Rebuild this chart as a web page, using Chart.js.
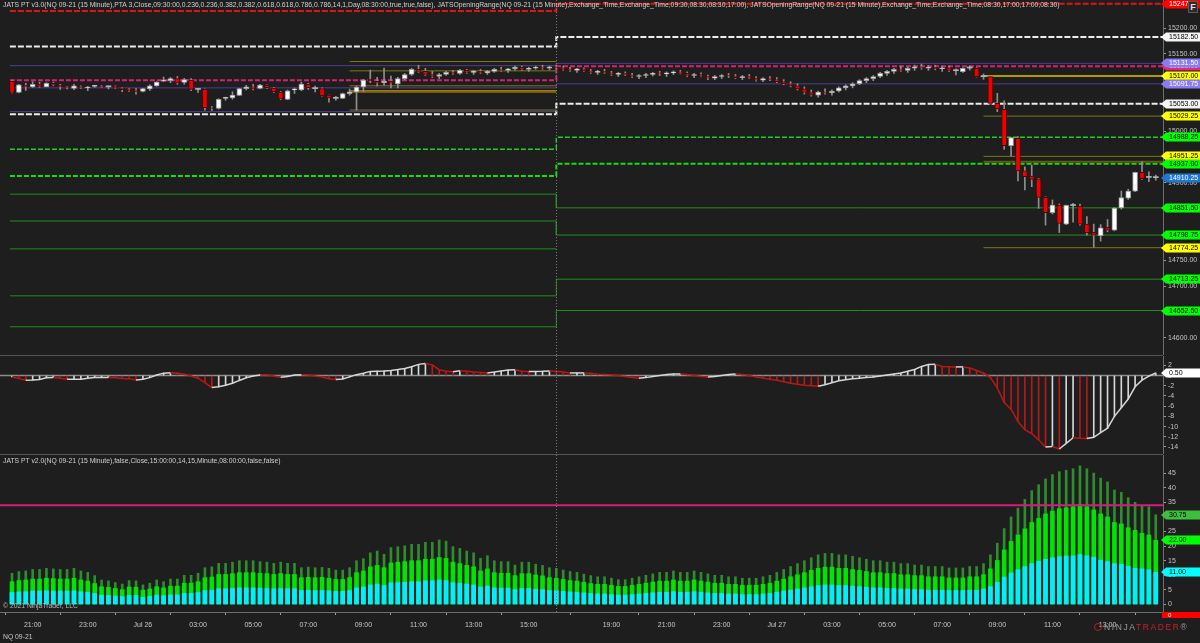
<!DOCTYPE html>
<html>
<head>
<meta charset="utf-8">
<title>NQ 09-21 (15 Minute)</title>
<script src="https://cdn.jsdelivr.net/npm/chart.js@4.4.1/dist/chart.umd.min.js"></script>
<style>
  html, body { margin: 0; padding: 0; background: #1e1e1e; overflow: hidden; }
  #wrap { position: relative; width: 1200px; height: 643px; background: #1e1e1e; font-family: "Liberation Sans", Arial, sans-serif; }
  canvas { position: absolute; left: 0; }
  #price { top: 0; }
  #osc { top: 356px; }
  #vol { top: 455px; }
  .sep { position: absolute; left: 0; width: 1163px; height: 1px; background: #555; }
  .txt { position: absolute; color: #d0d0d0; font-size: 6.8px; white-space: nowrap; }
  #fbtn { position: absolute; left: 1188px; top: 1px; width: 10px; height: 12px; background: #2b2b2b; border: 1px solid #5a5a5a; box-sizing: border-box; color: #e0e0e0; font-size: 9px; font-weight: bold; text-align: center; line-height: 11px; }
  #zero { position: absolute; left: 1162px; top: 612px; width: 38px; height: 6px; background: #ff0000; color: #fff; font-size: 6px; line-height: 6px; padding-left: 6px; box-sizing: border-box; }
  #logo { position: absolute; left: 1094px; top: 622px; font-size: 8.5px; letter-spacing: 1.6px; color: #9a9a9a; white-space: nowrap; }
  #logo b { font-weight: normal; color: #c8202a; }
  #logo i { display: inline-block; width: 8px; height: 8px; border-radius: 50%; border: 1.5px solid #b02028; box-sizing: border-box; margin-right: 2px; vertical-align: -1px; }
</style>
</head>
<body>
<div id="wrap">
  <canvas id="price" width="1200" height="355"></canvas>
  <canvas id="osc" width="1200" height="98"></canvas>
  <canvas id="vol" width="1200" height="188"></canvas>
  <div class="sep" style="top:355px"></div>
  <div class="sep" style="top:454px"></div>
  <div class="txt" style="left:3px;top:1px">JATS PT v3.0(NQ 09-21 (15 Minute),PTA 3,Close,09:30:00,0.236,0.236,0.382,0.382,0.618,0.618,0.786,0.786,14,1,Day,08:30:00,true,true,false), JATSOpeningRange(NQ 09-21 (15 Minute),Exchange_Time,Exchange_Time,09:30,08:30,08:30,17:00), JATSOpeningRange(NQ 09-21 (15 Minute),Exchange_Time,Exchange_Time,08:30,17:00,17:00,08:30)</div>
  <div class="txt" style="left:3px;top:457px">JATS PT v2.0(NQ 09-21 (15 Minute),false,Close,15:00:00,14,15,Minute,08:00:00,false,false)</div>
  <div class="txt" style="left:3px;top:602px;color:#b8b8b8">© 2021 NinjaTrader, LLC</div>
  <div class="txt" style="left:3px;top:633px;color:#c8c8c8">NQ 09-21</div>
  <div id="fbtn">F</div>
  <div id="zero">0</div>
  <div id="logo"><i></i>NINJA<b>TRADER</b>®</div>
</div>
<script>
const FONT = '"Liberation Sans", Arial, sans-serif';

// ---------- Data ----------
// 15 minute bars, Jul 25 20:15 -> Jul 27 14:45 (session break after bar 79)
const opens = [
  15097, 15075, 15089, 15086, 15091.5, 15086, 15093, 15089, 15085.5, 15083,
  15086, 15083.75, 15087, 15088, 15086, 15087, 15084, 15082, 15080, 15077,
  15082, 15088, 15096.75, 15098, 15102, 15094.75, 15098.5, 15081, 15081, 15044.5,
  15044, 15063.5, 15064.5, 15069.5, 15082.5, 15086, 15083, 15089, 15083.75, 15076,
  15061.75, 15080, 15080, 15091, 15082.5, 15082.5, 15069.5, 15064, 15063.75, 15072.75,
  15076, 15086, 15100.5, 15096.75, 15094, 15097, 15091.5, 15102, 15110, 15120,
  15116, 15110, 15106, 15110, 15114, 15112, 15118, 15114, 15116, 15113,
  15116, 15120, 15118, 15121, 15124, 15120, 15122, 15124, 15122, 15125,
  15123, 15120, 15118, 15121, 15117, 15114, 15116, 15113, 15110, 15112,
  15109, 15106, 15108, 15110, 15112, 15111, 15113, 15115, 15112, 15108,
  15110, 15106, 15103, 15106, 15108, 15107, 15104, 15106, 15103, 15099,
  15102, 15100, 15096, 15092, 15088, 15082, 15075, 15070, 15076, 15074,
  15078, 15084, 15088, 15092, 15098, 15102, 15106, 15112, 15116, 15120,
  15118, 15122, 15125, 15122, 15124, 15121, 15123, 15117.25, 15115.5, 15122.5,
  15121.75, 15105.75, 15105.75, 15054, 15042.5, 14972, 14986, 14923, 14913, 14907.5,
  14871.75, 14842, 14857, 14820, 14856, 14855, 14820.25, 14804, 14797.5, 14813.75,
  14808, 14851.25, 14870, 14884, 14920.25, 14910.5, 14910
];
const highs = [
  15099, 15091, 15093, 15096, 15095, 15094, 15095, 15091, 15087, 15091,
  15088, 15087, 15089, 15089, 15088, 15088, 15085, 15083, 15083, 15083,
  15090, 15096, 15105, 15104, 15106, 15102.5, 15102, 15083, 15082, 15048,
  15063, 15066, 15076.5, 15083, 15089, 15091, 15091, 15090, 15085, 15077,
  15080, 15083.75, 15095, 15093, 15087.5, 15084, 15070, 15067.5, 15074, 15081.75,
  15087.5, 15100.5, 15118.5, 15104.5, 15122.5, 15107, 15104.5, 15112, 15122, 15128,
  15122, 15116, 15112, 15116, 15118, 15120, 15120, 15118, 15120, 15118,
  15122, 15124, 15122, 15126, 15126, 15124, 15126, 15128, 15126, 15128,
  15126, 15124, 15122, 15123, 15120, 15118, 15120, 15116, 15114, 15115,
  15112, 15110, 15112, 15114, 15116, 15115, 15117, 15118, 15115, 15112,
  15113, 15109, 15108, 15110, 15112, 15110, 15108, 15110, 15106, 15104,
  15106, 15104, 15100, 15096, 15092, 15086, 15080, 15078, 15082, 15080,
  15086, 15090, 15094, 15100, 15104, 15108, 15114, 15118, 15122, 15126,
  15124, 15128, 15130, 15127, 15128, 15126, 15126, 15121, 15123, 15126.5,
  15123, 15111, 15106, 15073.5, 15059, 14988, 14989.5, 14931, 14934.5, 14908.75,
  14873, 14866.75, 14859, 14857, 14860, 14859, 14834.5, 14820, 14819, 14829,
  14852, 14884, 14887.5, 14921, 14941, 14921.5, 14915
];
const lows = [
  15074, 15074, 15079, 15085, 15085, 15086, 15088, 15081, 15082, 15080.5,
  15083, 15078.5, 15085, 15085, 15082, 15083, 15076.5, 15077, 15072, 15076,
  15079, 15087, 15096, 15094, 15091, 15091, 15078.5, 15075, 15041, 15040,
  15043, 15060, 15062, 15069, 15080, 15080, 15082, 15083, 15075, 15061,
  15061, 15073, 15078.5, 15081, 15076, 15068, 15056.5, 15060, 15063, 15070,
  15041, 15076.5, 15094, 15087.5, 15089, 15083.75, 15083.75, 15100, 15108, 15114,
  15108, 15104, 15102, 15108, 15110, 15110, 15112, 15110, 15112, 15110,
  15114, 15116, 15114, 15118, 15118, 15116, 15120, 15120, 15119, 15121,
  15118, 15116, 15114, 15116, 15112, 15110, 15112, 15108, 15106, 15108,
  15104, 15102, 15104, 15107, 15108, 15106, 15110, 15111, 15106, 15104,
  15105, 15100, 15100, 15102, 15104, 15102, 15100, 15102, 15097, 15096,
  15098, 15094, 15090, 15086, 15080, 15072, 15068, 15066, 15072, 15070,
  15076, 15080, 15084, 15090, 15094, 15098, 15104, 15108, 15112, 15116,
  15114, 15118, 15120, 15118, 15119, 15116, 15116, 15109, 15114, 15118.5,
  15105, 15100.5, 15053, 15038, 14965, 14952, 14903.5, 14886, 14892.5, 14850.5,
  14818, 14839.5, 14803.5, 14819, 14823.5, 14818, 14798.75, 14775, 14787, 14805,
  14807, 14849, 14868, 14883, 14906.75, 14902, 14905
];
const closes = [
  15075, 15090, 15086, 15091, 15087, 15093, 15089, 15086, 15085, 15088,
  15084.5, 15085.75, 15087.5, 15086, 15086, 15084, 15080.5, 15079, 15077, 15082.5,
  15088, 15095, 15099, 15102, 15093.5, 15100, 15081, 15081, 15045.5, 15044,
  15062, 15064, 15070, 15082.5, 15086, 15082, 15089.5, 15084.5, 15076.5, 15062.5,
  15078.5, 15080.5, 15091.5, 15084.5, 15082.5, 15069, 15064.5, 15063.75, 15072.75, 15076.5,
  15085.75, 15099, 15098, 15093, 15096.75, 15093, 15102, 15110, 15120, 15116,
  15110, 15106, 15110, 15114, 15112, 15118, 15114, 15116, 15113, 15116,
  15120, 15118, 15121, 15124, 15120, 15122, 15124, 15122, 15125, 15123,
  15120, 15118, 15121, 15117, 15114, 15116, 15113, 15110, 15112, 15109,
  15106, 15108, 15110, 15112, 15111, 15113, 15115, 15112, 15108, 15110,
  15106, 15103, 15106, 15108, 15107, 15104, 15106, 15103, 15099, 15102,
  15100, 15096, 15092, 15088, 15082, 15075, 15070, 15076, 15074, 15078,
  15084, 15088, 15092, 15098, 15102, 15106, 15112, 15116, 15120, 15118,
  15122, 15125, 15122, 15124, 15121, 15123, 15118, 15117.25, 15121.75, 15122.5,
  15105.75, 15105.75, 15054, 15043, 14972, 14987.5, 14923, 14912, 14906.75, 14871.75,
  14842, 14857, 14821.5, 14856.25, 14856.25, 14820, 14803.5, 14798.75, 14813, 14808,
  14851.25, 14871.25, 14884, 14920.25, 14908, 14910.5, 14910.25
];

// JATS PT v3.0 oscillator
const oscVals = [
  -0.26, -0.6, -0.9, -0.87, -0.78, -0.44, -0.4, -0.52, -0.7, -0.7,
  -0.7, -0.52, -0.4, -0.4, -0.4, -0.44, -0.56, -0.6, -0.87, -0.7,
  -0.4, 0.1, 0.48, 0.56, 0.52, 0.26, -0.1, -0.52, -1.4, -2.35,
  -2.2, -1.9, -1.5, -0.95, -0.44, -0.1, 0.13, 0.1, -0.1, -0.35,
  -0.18, 0.1, 0.18, 0.1, -0.1, -0.26, -0.6, -0.78, -0.65, -0.26,
  0.18, 0.44, 0.82, 0.87, 0.92, 1.0, 1.18, 1.4, 1.75, 2.2,
  2.35, 2.1, 1.15, 0.87, 0.74, 0.96, 0.87, 0.7, 0.6, 0.52,
  0.7, 0.92, 1.1, 1.15, 0.87, 0.78, 0.78, 0.83, 0.92, 0.87,
  0.7, 0.52, 0.52, 0.52, 0.44, 0.26, 0.2, 0.1, 0.0, -0.2,
  -0.4, -0.5, -0.4, -0.2, 0.0, 0.2, 0.3, 0.3, 0.2, 0.0,
  -0.2, -0.3, -0.2, 0.0, 0.2, 0.3, 0.2, 0.0, -0.3, -0.5,
  -0.7, -0.9, -1.2, -1.5, -1.7, -1.9, -2.0, -2.1, -1.8, -1.4,
  -1.0, -0.8, -0.6, -0.5, -0.4, -0.3, -0.1, 0.1, 0.3, 0.5,
  0.85, 1.2, 1.8, 2.15, 2.2, 1.8, 1.75, 1.7, 1.7, 1.5,
  1.0, 0.5, -0.4, -2.4, -5.3, -6.6, -9, -10.6, -11.4, -12.6,
  -14, -13.9, -14.4, -13.3, -12.2, -12.3, -12.35, -12.1, -11.2, -10.3,
  -8, -6.3, -4.6, -2.2, -0.9, -0.1, 0.5
];

// JATS PT v2.0 lower panel: outer (dark green), mid (green), inner (cyan)
const outerVals = [
  10.7, 11.3, 11.5, 12, 12, 12.4, 12.2, 12, 12, 12.4,
  11.5, 11, 9.9, 8.4, 8.1, 7.5, 7, 8.2, 8.1, 6.7,
  7.3, 8.4, 7.8, 8.7, 8.7, 10, 10, 10.7, 12.6, 12.9,
  14.1, 14.1, 14.5, 15, 15, 15, 14.7, 14.5, 14.1, 14.5,
  14.1, 14.1, 12.6, 12.8, 12.6, 12.7, 12.4, 11.8, 11.8, 12.6,
  15, 15.7, 17.7, 18.3, 17.2, 19.5, 19.8, 20.1, 20.6, 20.6,
  21.3, 21.3, 22.1, 21.7, 19.8, 19.2, 18.3, 17.7, 15.8, 16.7,
  15, 14.7, 14.7, 13.5, 14.5, 14.5, 13.8, 13.4, 12.6, 12.4,
  11.8, 11.3, 11, 10.4, 9.9, 9.5, 9.5, 9, 8.5, 8.5,
  9, 9.5, 10, 10.5, 11, 11, 11.5, 11, 11, 11.5,
  11, 10.5, 10, 10, 9.5, 9.5, 9, 9, 9, 9.5,
  10, 11, 12, 13, 14, 15, 16, 17, 17.5, 17.5,
  17, 17, 16.5, 16, 15.5, 15, 15, 14.5, 14.5, 14,
  14, 13.5, 13.5, 13, 13, 13, 12.5, 12.5, 12.5, 13,
  13, 14, 17, 21, 26, 30, 33, 36, 39, 41,
  43, 44.5, 45.5, 46, 46.5, 47.5, 46.5, 45, 43.3, 42,
  39.2, 38.4, 36.6, 35, 34, 33.5, 30.75
];
const midVals = [
  7.8, 8.2, 8.4, 8.7, 8.7, 9.0, 8.9, 8.7, 8.7, 9.0,
  8.4, 8.0, 7.2, 6.1, 5.9, 5.5, 5.1, 6.0, 5.9, 4.9,
  5.3, 6.1, 5.7, 6.3, 6.3, 7.3, 7.3, 7.8, 9.2, 9.4,
  10.3, 10.3, 10.6, 10.9, 10.9, 10.9, 10.7, 10.6, 10.3, 10.6,
  10.3, 10.3, 9.2, 9.3, 9.2, 9.3, 9.0, 8.6, 8.6, 9.2,
  10.9, 11.5, 12.9, 13.4, 12.6, 14.2, 14.5, 14.7, 15.0, 15.0,
  15.5, 15.5, 16.1, 15.8, 14.5, 14.0, 13.4, 12.9, 11.5, 12.2,
  10.9, 10.7, 10.7, 9.9, 10.6, 10.6, 10.1, 9.8, 9.2, 9.0,
  8.6, 8.2, 8.0, 7.6, 7.2, 6.9, 6.9, 6.6, 6.2, 6.2,
  6.6, 6.9, 7.3, 7.7, 8.0, 8.0, 8.4, 8.0, 8.0, 8.4,
  8.0, 7.7, 7.3, 7.3, 6.9, 6.9, 6.6, 6.6, 6.6, 6.9,
  7.3, 8.0, 8.7, 9.5, 10.2, 10.9, 11.7, 12.4, 12.8, 12.8,
  12.4, 12.4, 12.0, 11.7, 11.3, 10.9, 10.9, 10.6, 10.6, 10.2,
  10.2, 9.9, 9.9, 9.5, 9.5, 9.5, 9.1, 9.1, 9.1, 9.5,
  9.5, 10.2, 12.2, 15.1, 18.7, 21.6, 23.8, 25.9, 28.1, 29.5,
  31.0, 32.0, 32.8, 33.1, 33.5, 34.2, 33.5, 32.4, 31.0, 30.0,
  28.1, 27.6, 26.3, 25.4, 24.4, 23.8, 22.0
];
const innerVals = [
  4.1, 4.3, 4.4, 4.6, 4.6, 4.7, 4.6, 4.6, 4.6, 4.7,
  4.4, 4.2, 3.8, 3.2, 3.1, 2.9, 2.7, 3.1, 3.1, 2.5,
  2.8, 3.2, 3.0, 3.3, 3.3, 3.8, 3.8, 4.1, 4.8, 4.9,
  5.4, 5.4, 5.5, 5.7, 5.7, 5.7, 5.6, 5.5, 5.4, 5.5,
  5.4, 5.4, 4.8, 4.9, 4.8, 4.8, 4.7, 4.5, 4.5, 4.8,
  5.7, 6.0, 6.7, 7.0, 6.5, 7.4, 7.5, 7.6, 7.8, 7.8,
  8.1, 8.1, 8.4, 8.2, 7.5, 7.3, 7.0, 6.7, 6.0, 6.3,
  5.7, 5.6, 5.6, 5.1, 5.5, 5.5, 5.2, 5.1, 4.8, 4.7,
  4.5, 4.3, 4.2, 4.0, 3.8, 3.6, 3.6, 3.4, 3.2, 3.2,
  3.4, 3.6, 3.8, 4.0, 4.2, 4.2, 4.4, 4.2, 4.2, 4.4,
  4.2, 4.0, 3.8, 3.8, 3.6, 3.6, 3.4, 3.4, 3.4, 3.6,
  3.8, 4.2, 4.6, 4.9, 5.3, 5.7, 6.1, 6.5, 6.7, 6.7,
  6.5, 6.5, 6.3, 6.1, 5.9, 5.7, 5.7, 5.5, 5.5, 5.3,
  5.3, 5.1, 5.1, 4.9, 4.9, 4.9, 4.8, 4.8, 4.8, 4.9,
  4.9, 5.3, 6.1, 7.6, 9.4, 10.8, 11.9, 13.0, 14.0, 14.8,
  15.5, 16.0, 16.4, 16.6, 16.7, 17.1, 16.7, 16.2, 15.2, 14.7,
  14.0, 13.8, 13.1, 12.4, 12.2, 11.9, 11.0
];
const volLimit = 34;

// session-level lines: [Jul 25-26 session, Jul 26-27 session]
const sessBreak = 79;
const lvlRed = [15233, 15247];
const lvlWhiteHi = [15164, 15182.5];
const lvlWhiteLo = [15033, 15053];
const lvlPink = [15099, 15126];
const lvlPurpleHi = [15127, 15131.5];
const lvlPurpleLo = [15084, 15091.75];
const lvlPurpleX = [15038, null];
const lvlGreenDashHi = [14965, 14988.25];
const lvlGreenDashLo = [14913, 14937];
const lvlGreen1 = [14878, 14851.5];
const lvlGreen2 = [14826, 14798.75];
const lvlGreen3 = [14772, null];
const lvlGreen4 = [14681, 14713.25];
const lvlGreen5 = [14621, 14652.5];

// PTA retracement levels drawn from the 08:30 bar of each day
const ptaStart = [49, 141];
const ptaLeft = [15135, 15117, 15088, 15078.5, 15076, 15041];
const ptaRight = [15107, 15029.25, 14951.25, 14941, 14774.25];

// axis ticks
const priceTicks = [14600, 14650, 14700, 14750, 14800, 14850, 14900, 14950, 15000, 15050, 15100, 15150, 15200, 15250];
const oscTicks = [2, 0, -2, -4, -6, -8, -10, -12, -14];
const volTicks = [0, 5, 10, 15, 20, 25, 30, 35, 40, 45];
const xTickIndex = [3, 11, 19, 27, 35, 43, 51, 59, 67, 75, 87, 95, 103, 111, 119, 127, 135, 143, 151, 159];
const xTickLabels = ['21:00', '23:00', 'Jul 26', '03:00', '05:00', '07:00', '09:00', '11:00', '13:00', '15:00',
  '19:00', '21:00', '23:00', 'Jul 27', '03:00', '05:00', '07:00', '09:00', '11:00', '13:00'];

// ---------- Layout constants ----------
const X_MIN = -1.74, X_MAX = 167.05;
const LINE_START = -0.3;
const AXIS_W = 37;
const RED = '#b81818', WHITE = '#d6d6d6';

const idx = opens.map((_, i) => i);

// ---------- Plugins ----------
const flagPlugin = {
  id: 'flags',
  afterDraw(chart, args, opts) {
    const ctx = chart.ctx;
    const ys = chart.scales.y;
    const x0 = chart.chartArea.right;
    ctx.save();
    ctx.font = '7px ' + FONT;
    ctx.textBaseline = 'middle';
    (opts.items || []).forEach(f => {
      const py = Math.round(ys.getPixelForValue(f.v));
      const h = 9;
      ctx.beginPath();
      ctx.moveTo(x0 - 2, py);
      ctx.lineTo(x0 + 3, py - h / 2);
      ctx.lineTo(1200, py - h / 2);
      ctx.lineTo(1200, py + h / 2);
      ctx.lineTo(x0 + 3, py + h / 2);
      ctx.closePath();
      ctx.fillStyle = f.bg;
      ctx.fill();
      ctx.fillStyle = f.fg;
      ctx.fillText(f.text, x0 + 6, py + 0.5);
    });
    ctx.restore();
  }
};

const breakPlugin = {
  id: 'sessBreak',
  afterDatasetsDraw(chart) {
    const ctx = chart.ctx;
    const px = Math.round(chart.scales.x.getPixelForValue(sessBreak)) + 0.5;
    ctx.save();
    ctx.strokeStyle = '#7a7a7a';
    ctx.lineWidth = 1;
    ctx.setLineDash([1, 2]);
    ctx.beginPath();
    ctx.moveTo(px, chart.chartArea.top);
    ctx.lineTo(px, chart.chartArea.bottom);
    ctx.stroke();
    ctx.restore();
  }
};

// ---------- Helpers ----------
function yAxis(min, max, ticks, fmt) {
  return {
    type: 'linear', position: 'right', min, max,
    afterBuildTicks: s => { s.ticks = ticks.map(v => ({ value: v })); },
    afterFit: s => { s.width = AXIS_W; s.paddingTop = 0; s.paddingBottom = 0; },
    ticks: { color: '#c4c4c4', font: { size: 7, family: FONT }, padding: 2, autoSkip: false, callback: fmt },
    grid: { drawOnChartArea: false, drawTicks: true, tickLength: 3, color: '#9a9a9a' },
    border: { display: true, color: '#6e6e6e' }
  };
}

const xHidden = { type: 'linear', min: X_MIN, max: X_MAX, display: false, offset: false };

function baseOptions(y, x, flags) {
  return {
    responsive: false, animation: false, events: [],
    layout: { padding: 0 },
    plugins: { legend: { display: false }, tooltip: { enabled: false }, flags: { items: flags } },
    scales: { x, y }
  };
}

function levelLine(vals, color, width, dash) {
  const pts = [];
  if (vals[0] != null) pts.push({ x: LINE_START, y: vals[0] }, { x: sessBreak, y: vals[0] });
  if (vals[1] != null) pts.push({ x: sessBreak, y: vals[1] }, { x: X_MAX, y: vals[1] });
  return { type: 'line', data: pts, borderColor: color, borderWidth: width, borderDash: dash || [],
    pointRadius: 0, fill: false, tension: 0, order: 5 };
}

function segLine(from, to, v, color, width) {
  return { type: 'line', data: [{ x: from, y: v }, { x: to, y: v }], borderColor: color, borderWidth: width,
    pointRadius: 0, fill: false, order: 4 };
}

// ---------- Price panel ----------
const ptaLeftColors = ['#7c7a12', '#7c7a12', '#7c7a12', '#c88a00', '#b8a000', '#7c7a12'];
const ptaRightColors = ['#b09a00', '#7c7a12', '#7c7a12', '#6a5612', '#7c7a12'];
const ptaRightWidth = [2, 1, 1, 2, 1];

const priceSets = [
  levelLine(lvlRed, '#e01414', 2, [6, 2]),
  levelLine(lvlWhiteHi, '#ececec', 2, [6, 2]),
  levelLine(lvlWhiteLo, '#ececec', 2, [6, 2]),
  levelLine(lvlPurpleHi, '#4b3f92', 1),
  levelLine(lvlPurpleLo, '#4b3f92', 1),
  levelLine(lvlPurpleX, '#4b3f92', 1),
  levelLine(lvlPink, '#d8207a', 2, [5, 2]),
  levelLine(lvlGreenDashHi, '#1ed41e', 1.5, [5, 2]),
  levelLine(lvlGreenDashLo, '#10e010', 2, [5, 2]),
  levelLine(lvlGreen1, '#1f8f1f', 1),
  levelLine(lvlGreen2, '#1f8f1f', 1),
  levelLine(lvlGreen3, '#1f8f1f', 1),
  levelLine(lvlGreen4, '#1f8f1f', 1),
  levelLine(lvlGreen5, '#1f8f1f', 1)
];
ptaLeft.forEach((v, k) => priceSets.push(segLine(ptaStart[0], sessBreak, v, ptaLeftColors[k], 1)));
ptaRight.forEach((v, k) => priceSets.push(segLine(ptaStart[1], X_MAX, v, ptaRightColors[k], ptaRightWidth[k])));

const isDoji = i => Math.abs(closes[i] - opens[i]) < 0.3;
priceSets.push({
  type: 'bar', order: 2, grouped: false, barThickness: 1,
  data: idx.map(i => ({ x: i, y: [lows[i], highs[i]] })),
  backgroundColor: '#8e8e8e'
});
priceSets.push({
  type: 'bar', order: 1, grouped: false, barThickness: 5, minBarLength: 1, borderSkipped: false,
  data: idx.map(i => ({ x: i, y: [opens[i], closes[i]] })),
  backgroundColor: idx.map(i => isDoji(i) ? '#b4b4b4' : (closes[i] > opens[i] ? '#ffffff' : '#f00000')),
  borderColor: idx.map(i => closes[i] > opens[i] ? '#9c9c9c' : '#4a0808'),
  borderWidth: idx.map(i => isDoji(i) ? 0 : 1)
});

const last = closes.length - 1;
const priceFlags = [
  { v: lvlRed[1], bg: '#ff0000', fg: '#ffffff', text: '15247' },
  { v: lvlWhiteHi[1], bg: '#f4f4f4', fg: '#000' },
  { v: lvlPink[1], bg: '#e0287e', fg: '#fff' },
  { v: lvlPurpleHi[1], bg: '#8a7cf2', fg: '#fff' },
  { v: ptaRight[0], bg: '#ffff00', fg: '#000' },
  { v: lvlPurpleLo[1], bg: '#8a7cf2', fg: '#fff' },
  { v: lvlWhiteLo[1], bg: '#f4f4f4', fg: '#000' },
  { v: ptaRight[1], bg: '#ffff00', fg: '#000' },
  { v: lvlGreenDashHi[1], bg: '#00ff00', fg: '#000' },
  { v: ptaRight[2], bg: '#ffff00', fg: '#000' },
  { v: lvlGreenDashLo[1], bg: '#00ff00', fg: '#000' },
  { v: closes[last], bg: '#1e78d2', fg: '#fff' },
  { v: lvlGreen1[1], bg: '#00ff00', fg: '#000' },
  { v: lvlGreen2[1], bg: '#00ff00', fg: '#000' },
  { v: ptaRight[4], bg: '#ffff00', fg: '#000' },
  { v: lvlGreen4[1], bg: '#00ff00', fg: '#000' },
  { v: lvlGreen5[1], bg: '#00ff00', fg: '#000' }
].map(f => ({ ...f, text: f.text || f.v.toFixed(2) }));

new Chart(document.getElementById('price'), {
  type: 'bar',
  data: { datasets: priceSets },
  options: baseOptions(yAxis(14566.3, 15254.3, priceTicks, v => v.toFixed(2)), xHidden, priceFlags),
  plugins: [breakPlugin, flagPlugin]
});

// ---------- Oscillator panel ----------
const oscColors = oscVals.map((v, i) => (i > 0 && v < oscVals[i - 1]) ? RED : WHITE);
new Chart(document.getElementById('osc'), {
  type: 'bar',
  data: {
    datasets: [
      { type: 'line', order: 3, data: [{ x: X_MIN, y: 0 }, { x: X_MAX, y: 0 }], borderColor: '#8c8c8c', borderWidth: 1.5, pointRadius: 0 },
      { type: 'bar', order: 2, grouped: false, barThickness: 1, data: idx.map(i => ({ x: i, y: oscVals[i] })), backgroundColor: oscColors },
      { type: 'line', order: 1, data: idx.map(i => ({ x: i, y: oscVals[i] })), borderWidth: 1.5, pointRadius: 0, tension: 0,
        borderColor: WHITE, segment: { borderColor: c => c.p1.parsed.y < c.p0.parsed.y ? RED : WHITE } }
    ]
  },
  options: baseOptions(yAxis(-15.38, 3.84, oscTicks, v => String(v)), xHidden,
    [{ v: oscVals[last], bg: '#ffffff', fg: '#000', text: oscVals[last].toFixed(2) }]),
  plugins: [breakPlugin, flagPlugin]
});

// ---------- Lower panel ----------
const xShown = {
  type: 'linear', min: X_MIN, max: X_MAX, position: 'bottom', offset: false,
  afterBuildTicks: s => { s.ticks = xTickIndex.map(v => ({ value: v })); },
  afterFit: s => { s.height = 31; s.paddingLeft = 0; s.paddingRight = 0; },
  ticks: { color: '#c8c8c8', font: { size: 7, family: FONT }, padding: 6, maxRotation: 0, autoSkip: false,
    callback: (v, i) => xTickLabels[i] },
  grid: { drawOnChartArea: false, drawTicks: true, tickLength: 3, color: '#9a9a9a' },
  border: { display: true, color: '#6e6e6e' }
};

new Chart(document.getElementById('vol'), {
  type: 'bar',
  data: {
    datasets: [
      { type: 'line', order: 0, data: [{ x: X_MIN, y: volLimit }, { x: X_MAX, y: volLimit }], borderColor: '#d81b7c', borderWidth: 2, pointRadius: 0 },
      { type: 'bar', order: 3, grouped: false, barThickness: 2, data: idx.map(i => ({ x: i, y: [midVals[i], outerVals[i]] })), backgroundColor: '#2f8c2f' },
      { type: 'bar', order: 2, grouped: false, barThickness: 4, data: idx.map(i => ({ x: i, y: midVals[i] })), backgroundColor: '#00e400' },
      { type: 'bar', order: 1, grouped: false, barThickness: 4, data: idx.map(i => ({ x: i, y: innerVals[i] })), backgroundColor: '#00eeff' }
    ]
  },
  options: baseOptions(yAxis(-2.57, 51.2, volTicks, v => String(v)), xShown, [
    { v: outerVals[last], bg: '#3cbf3c', fg: '#000', text: outerVals[last].toFixed(2) },
    { v: midVals[last], bg: '#00ff00', fg: '#000', text: midVals[last].toFixed(2) },
    { v: innerVals[last], bg: '#00ffff', fg: '#000', text: innerVals[last].toFixed(2) }
  ]),
  plugins: [breakPlugin, flagPlugin]
});
</script>
</body>
</html>
